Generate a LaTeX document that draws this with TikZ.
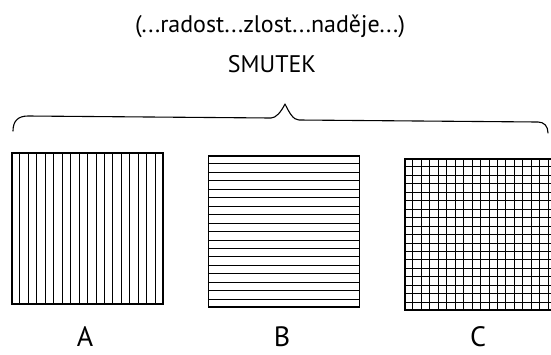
\documentclass[tikz,border=0pt]{standalone}
\usepackage{fontspec}
\setmainfont{PT Sans}
\usetikzlibrary{calc,positioning}

\begin{document}
\begin{tikzpicture}[
  x=1pt,y=-1pt,
  panel/.style={draw,line width=1.3pt,minimum size=151pt,inner sep=0pt},
  rule/.style={line width=0.9pt},
  caption/.style={font=\fontsize{24}{26}\selectfont,anchor=base,inner sep=0pt},
  letter/.style={font=\fontsize{28}{30}\selectfont,anchor=base,inner sep=0pt},
  brace/.style={line width=1.1pt,line cap=round,line join=round}
]
\useasboundingbox (0,0) rectangle (551,354);
\clip (0,0) rectangle (551,354);

% headings
\node[caption] (emotions) at (270,32) {(...radost...zlost...naděje...)};
\node[caption] (sadness) at (272,72) {SMUTEK};

% the brace over all three panels
\draw[brace] (13,131) .. controls (13,121) and (18,116) .. (28,116)
  -- (271,118) .. controls (276,118) and (281,112) .. (285,104)
  .. controls (289,112) and (293,120) .. (299,120)
  -- (538,122) .. controls (544,122) and (548,126) .. (548,133);

% the three panels
\node[panel] (A) at (87.5,228.5) {};
\node[panel] (B) at (284,231.5) {};
\node[panel] (C) at (480.5,234.5) {};

% vertical strokes in A
\foreach \i in {1,...,17}
  \draw[rule] ($(A.north west)!\i/18!(A.north east)$) -- ($(A.south west)!\i/18!(A.south east)$);
% horizontal strokes in B
\foreach \i in {1,...,17}
  \draw[rule] ($(B.north west)!\i/18!(B.south west)$) -- ($(B.north east)!\i/18!(B.south east)$);
% grid in C
\foreach \i in {1,...,17} {
  \draw[rule] ($(C.north west)!\i/18!(C.north east)$) -- ($(C.south west)!\i/18!(C.south east)$);
  \draw[rule] ($(C.north west)!\i/18!(C.south west)$) -- ($(C.north east)!\i/18!(C.south east)$);
}

% labels
\node[letter] (labA) at (85,346) {A};
\node[letter] (labB) at (282,346) {B};
\node[letter] (labC) at (478,346) {C};
\end{tikzpicture}
\end{document}
